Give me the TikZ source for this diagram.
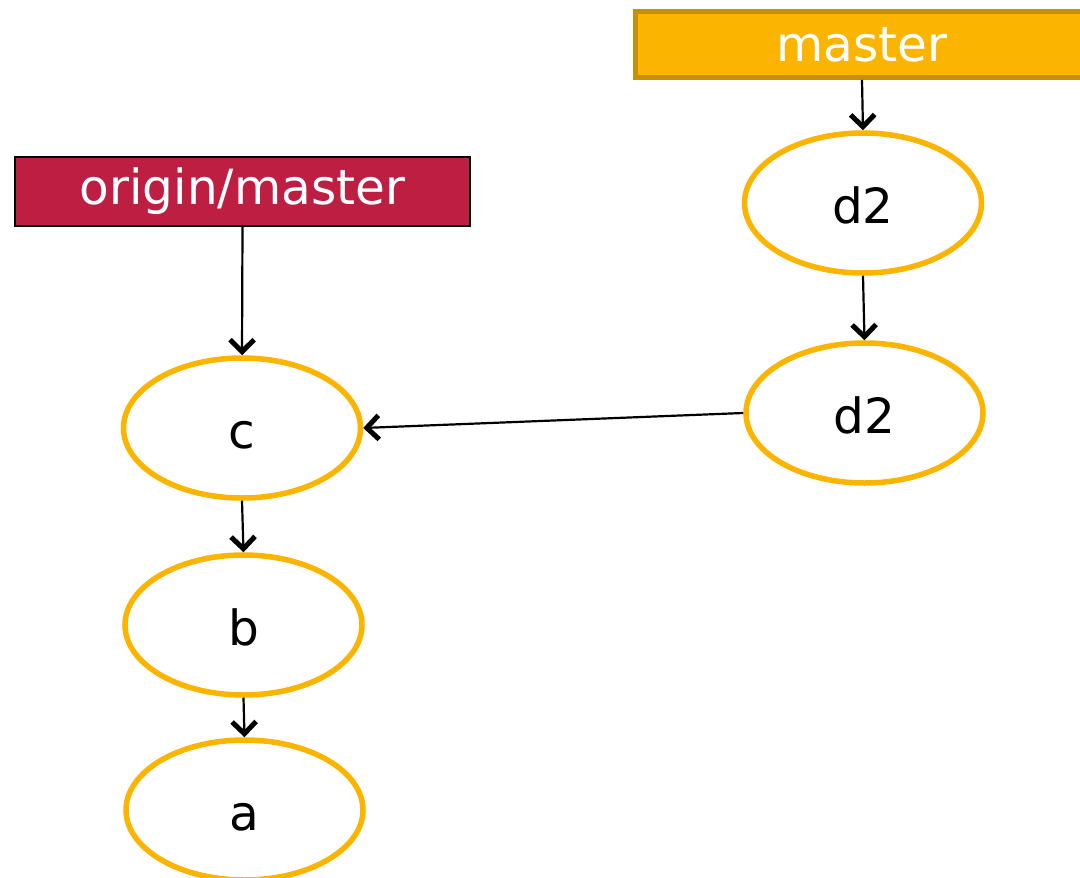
\documentclass[tikz,border=0pt]{standalone}
\usepackage{fontspec}
\setmainfont{DejaVu Sans}
\usetikzlibrary{shapes.geometric,arrows.meta}
\definecolor{gold}{HTML}{FBB400}
\definecolor{golddark}{HTML}{C8900A}
\definecolor{crimson}{HTML}{BE1E42}
\tikzset{
  commit/.style={ellipse, draw=gold, line width=5.5pt, minimum width=237pt, minimum height=140pt, inner sep=0pt, text height=40pt, text depth=0pt, font=\fontsize{48.5}{52}\selectfont, text=black},
  masterbox/.style={rectangle, draw=golddark, fill=gold, line width=5pt, minimum width=453pt, minimum height=66pt, inner sep=0pt, font=\fontsize{48.5}{52}\selectfont, text=white},
  originbox/.style={rectangle, draw=black, fill=crimson, line width=1.8pt, minimum width=455pt, minimum height=69pt, inner sep=0pt, font=\fontsize{48.5}{52}\selectfont, text=white},
  link/.style={line width=2.2pt, -{Straight Barb[length=12pt,width=24pt,line width=5pt]}}
}
\begin{document}
\begin{tikzpicture}[x=1pt,y=-1pt]
\useasboundingbox (0,0) rectangle (1080,878);
\begin{scope}
\clip (0,0) rectangle (1080,878);
\node[masterbox] (master) at (862,44.5) {master};
\node[originbox] (origin) at (242.5,191.5) {origin/master};
\node[commit] (d2a) at (863,203) {d2};
\node[commit] (d2b) at (864.5,413) {d2};
\node[commit] (c) at (242,428) {c};
\node[commit] (b) at (243.5,625) {b};
\node[commit] (a) at (244.5,810) {a};
\draw[link] (master.south) -- (d2a.north);
\draw[link] (d2a.south) -- (d2b.north);
\draw[link] (origin.south) -- (c.north);
\draw[link] (d2b.west) -- (c.east);
\draw[link] (c.south) -- (b.north);
\draw[link] (b.south) -- (a.north);
\end{scope}
\end{tikzpicture}
\end{document}
